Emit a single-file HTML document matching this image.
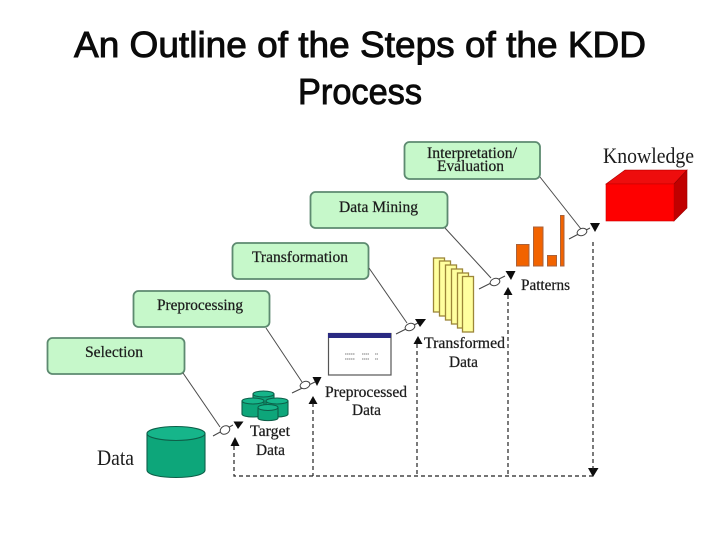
<!DOCTYPE html>
<html><head><meta charset="utf-8">
<style>
html,body{margin:0;padding:0;background:#fff;width:720px;height:540px;overflow:hidden}
svg{display:block}
.t{font-family:"Liberation Sans",sans-serif;font-size:36px;fill:#0a0a0a;stroke:#0a0a0a;stroke-width:.9}
.s{font-family:"Liberation Serif",serif;font-size:16px;fill:#1c1c1c;stroke:#1c1c1c;stroke-width:.25}
.b{fill:#c6f8ca;stroke:#5d8a70;stroke-width:1.8}
.c{fill:none;stroke:#4c4c4c;stroke-width:1}
.d{fill:none;stroke:#222;stroke-width:1.2;stroke-dasharray:4 3}
.p{fill:#ffff9e;stroke:#9c8638;stroke-width:1.3}
.bar{fill:#f26405;stroke:#a8623a;stroke-width:1}
.cy{fill:#0ca67a;stroke:#0a5f48;stroke-width:1.1}
.cyt{fill:#14b58a;stroke:#0a5f48;stroke-width:1.1}
</style></head><body>
<svg width="720" height="540" viewBox="0 0 720 540" xmlns="http://www.w3.org/2000/svg">
<defs><filter id="f" filterUnits="userSpaceOnUse" x="0" y="0" width="720" height="540"><feGaussianBlur stdDeviation="0.35"/></filter></defs>
<text class="t" x="74" y="57" textLength="572" lengthAdjust="spacingAndGlyphs">An Outline of the Steps of the KDD</text>
<text class="t" x="298" y="104" textLength="124" lengthAdjust="spacingAndGlyphs">Process</text>

<g filter="url(#f)">
<rect class="b" x="404.500" y="142" width="135.500" height="37" rx="5"/>
<rect class="b" x="310.500" y="192" width="137" height="36" rx="5"/>
<rect class="b" x="232.500" y="243" width="136" height="36" rx="5"/>
<rect class="b" x="133.500" y="291" width="136" height="36" rx="5"/>
<rect class="b" x="47.500" y="338" width="137" height="36" rx="5"/>

<path class="c" d="M540 177L581 229M445 228L491 278M369 268L407 323M266 328L302 382M183 373L220 427"/>
<g fill="none" stroke="#444" stroke-width="1">
<path d="M569 239L590 228M479 289L505 276M396 334L420 322M292 393L315 382M213 436L233 425"/>
<ellipse cx="582" cy="232" rx="5" ry="3.500" transform="rotate(-20 582 232)" fill="#fff"/>
<ellipse cx="495" cy="282" rx="5" ry="3.500" transform="rotate(-20 495 282)" fill="#fff"/>
<ellipse cx="410" cy="327" rx="5" ry="3.500" transform="rotate(-20 410 327)" fill="#fff"/>
<ellipse cx="305" cy="385" rx="5" ry="3.500" transform="rotate(-20 305 385)" fill="#fff"/>
<ellipse cx="225" cy="430" rx="5" ry="4" transform="rotate(-30 225 430)" fill="#fff"/>
</g>
<g fill="#0a0a0a">
<path d="M590 223H600L595 232Z"/>
<path d="M505.500 271H515.500L511 280Z"/>
<path d="M415 319L426 319L420 327Z"/>
<path d="M312.500 377H321.500L317 386Z"/>
<path d="M233.500 421.500H243.500L238 429Z"/>
<path d="M508 287L512.500 295H503.500Z"/>
<path d="M418 336L422.500 344H413.500Z"/>
<path d="M313 396L317.500 404H308.500Z"/>
<path d="M235 437L239.500 446H230.500Z"/>
<path d="M588 468H598.500L593 477Z"/>
</g>
<path class="d" d="M234 446V476H593M313 403V476M417 344V476M508 295V476M593 242V470"/>

<path d="M606 184L625 170H687L674 184Z" fill="#ee0a0a" stroke="#a00" stroke-width=".6"/>
<path d="M674 184L687 170V208L674 221Z" fill="#c00000" stroke="#900" stroke-width=".6"/>
<rect x="606" y="184" width="68" height="37" fill="#fe0000" stroke="#c00" stroke-width=".6"/>

<rect class="bar" x="516.500" y="244.500" width="12.500" height="21.500"/>
<rect class="bar" x="533.500" y="227" width="9.500" height="39"/>
<rect class="bar" x="547.500" y="255.500" width="9" height="10.500"/>
<rect class="bar" x="560.500" y="215.500" width="3.500" height="50.500"/>

<rect class="p" x="433.500" y="258" width="11" height="54"/>
<rect class="p" x="439.500" y="261" width="11" height="55"/>
<rect class="p" x="445.500" y="265" width="11" height="55"/>
<rect class="p" x="451.500" y="269" width="11" height="55"/>
<rect class="p" x="457.500" y="273" width="11" height="55"/>
<rect class="p" x="462.500" y="276.500" width="11" height="55.500"/>

<rect x="328.500" y="333.500" width="62.500" height="41.500" fill="#fff" stroke="#555" stroke-width="1.200"/>
<rect x="328" y="333" width="63" height="5" fill="#2b2b82"/>
<path d="M345 354H355M362 354H369M375 354H378M345 359H355M362 359H369M375 359H378" stroke="#aaa" stroke-width="1.500" stroke-dasharray="1.500 .5" fill="none"/>

<path class="cy" d="M147 434V470C147 480 205 480 205 470V434Z"/>
<ellipse class="cyt" cx="176" cy="433.500" rx="29" ry="7"/>

<g>
<path class="cy" d="M253 394V405C253 409 274 409 274 405V394Z"/><ellipse class="cyt" cx="263.500" cy="394" rx="10.500" ry="3"/>
<path class="cy" d="M242 401V414C242 418 264 418 264 414V401Z"/><ellipse class="cyt" cx="253" cy="401" rx="11" ry="3"/>
<path class="cy" d="M266 401V414C266 418 288 418 288 414V401Z"/><ellipse class="cyt" cx="277" cy="401" rx="11" ry="3"/>
<path class="cy" d="M258 408V418C258 421.500 278 421.500 278 418V408Z"/><ellipse class="cyt" cx="268" cy="407.500" rx="10" ry="3"/>
</g>

<text class="s" x="427" y="158" textLength="90" lengthAdjust="spacingAndGlyphs">Interpretation/</text>
<text class="s" x="437" y="171" textLength="67" lengthAdjust="spacingAndGlyphs">Evaluation</text>
<text class="s" x="339" y="212" textLength="79" lengthAdjust="spacingAndGlyphs">Data Mining</text>
<text class="s" x="252" y="262" textLength="96" lengthAdjust="spacingAndGlyphs">Transformation</text>
<text class="s" x="157" y="310" textLength="86" lengthAdjust="spacingAndGlyphs">Preprocessing</text>
<text class="s" x="85" y="357" textLength="58" lengthAdjust="spacingAndGlyphs">Selection</text>
<text class="s" x="521" y="290" textLength="49" lengthAdjust="spacingAndGlyphs">Patterns</text>
<text class="s" x="424" y="348" textLength="81" lengthAdjust="spacingAndGlyphs">Transformed</text>
<text class="s" x="449" y="367" textLength="29" lengthAdjust="spacingAndGlyphs">Data</text>
<text class="s" x="325" y="397" textLength="82" lengthAdjust="spacingAndGlyphs">Preprocessed</text>
<text class="s" x="352" y="415" textLength="29" lengthAdjust="spacingAndGlyphs">Data</text>
<text class="s" x="250" y="436" textLength="40" lengthAdjust="spacingAndGlyphs">Target</text>
<text class="s" x="256" y="455" textLength="29" lengthAdjust="spacingAndGlyphs">Data</text>
<text class="s" style="font-size:22px;stroke:none" x="97" y="465" textLength="37" lengthAdjust="spacingAndGlyphs">Data</text>
<text class="s" style="font-size:22px;stroke:none" x="603" y="163" textLength="91" lengthAdjust="spacingAndGlyphs">Knowledge</text>
</g>
</svg>
</body></html>
